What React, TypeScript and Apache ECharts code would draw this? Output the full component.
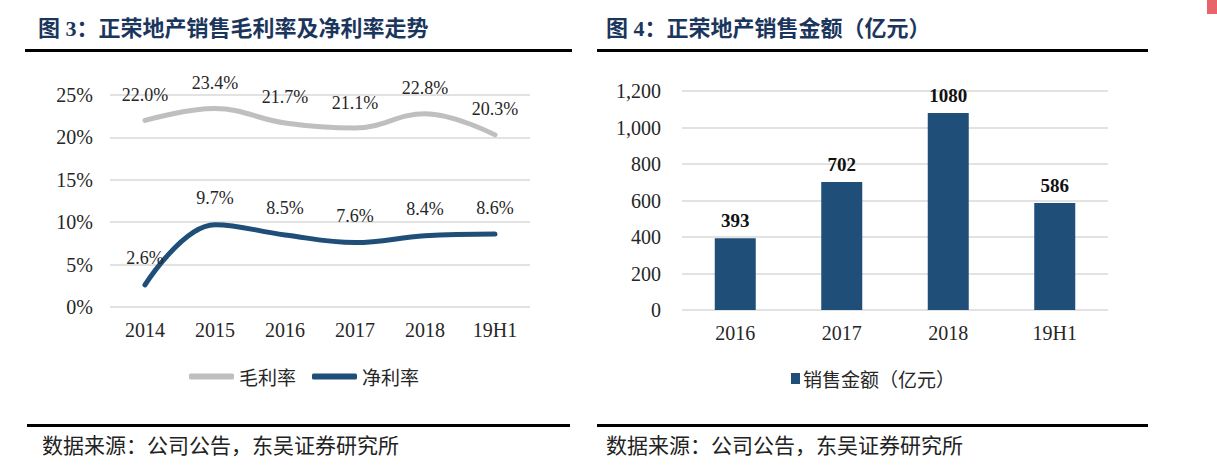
import React, { useEffect, useRef } from "react";
import * as echarts from "echarts";

const marginYears = ["2014", "2015", "2016", "2017", "2018", "19H1"];
const grossMargin = [22.0, 23.4, 21.7, 21.1, 22.8, 20.3];
const netMargin = [2.6, 9.7, 8.5, 7.6, 8.4, 8.6];
const salesYears = ["2016", "2017", "2018", "19H1"];
const salesAmount = [393, 702, 1080, 586];

const titleLeft = "图 3：正荣地产销售毛利率及净利率走势";
const titleRight = "图 4：正荣地产销售金额（亿元）";
const sourceText = "数据来源：公司公告，东吴证券研究所";

const NAVY = "#1F4E79";
const GRAY = "#BFBFBF";
const SERIF = '"Liberation Serif", "Times New Roman", serif';
const CJK = '"Noto Sans CJK SC", sans-serif';

export default function App() {
  const ref = useRef<HTMLDivElement>(null);
  useEffect(() => {
    document.body.style.margin = "0";
    const chart = echarts.init(ref.current!, null, { renderer: "svg" });
    const axisLabel = { fontFamily: SERIF, fontSize: 20, color: "#262626" };
    const lineLabel = {
      show: true,
      position: "top",
      distance: 16,
      fontFamily: SERIF,
      fontSize: 18,
      color: "#262626",
      formatter: (p: any) => p.value.toFixed(1) + "%",
    };
    chart.setOption({
      animation: false,
      backgroundColor: "#ffffff",
      grid: [
        { left: 110, top: 95, width: 420, height: 212 },
        { left: 682, top: 91, width: 426, height: 219 },
      ],
      legend: [
        {
          left: 184,
          top: 362,
          data: ["毛利率", "净利率"],
          icon: "roundRect",
          itemWidth: 45,
          itemHeight: 6,
          itemGap: 16,
          textStyle: { fontFamily: CJK, fontSize: 19, color: "#262626" },
        },
        {
          left: 786,
          top: 364,
          data: ["销售金额（亿元）"],
          icon: "rect",
          itemWidth: 9,
          itemHeight: 11,
          itemGap: 10,
          textStyle: { fontFamily: CJK, fontSize: 19, color: "#262626", padding: [0, 0, 0, -2] },
        },
      ],
      xAxis: [
        {
          type: "category",
          gridIndex: 0,
          data: marginYears,
          axisLine: { show: false },
          axisTick: { show: false },
          axisLabel: { ...axisLabel, margin: 13 },
        },
        {
          type: "category",
          gridIndex: 1,
          data: salesYears,
          axisLine: { show: false },
          axisTick: { show: false },
          axisLabel: { ...axisLabel, margin: 13 },
        },
      ],
      yAxis: [
        {
          type: "value",
          gridIndex: 0,
          min: 0,
          max: 25,
          interval: 5,
          axisLine: { show: false },
          axisTick: { show: false },
          splitLine: { lineStyle: { color: "#D9D9D9", width: 1.5 } },
          axisLabel: { ...axisLabel, margin: 17, formatter: "{value}%" },
        },
        {
          type: "value",
          gridIndex: 1,
          min: 0,
          max: 1200,
          interval: 200,
          axisLine: { show: false },
          axisTick: { show: false },
          splitLine: { lineStyle: { color: "#D9D9D9", width: 1.5 } },
          axisLabel: {
            ...axisLabel,
            margin: 21,
            formatter: (v: number) => v.toLocaleString("en-US"),
          },
        },
      ],
      series: [
        {
          name: "毛利率",
          type: "line",
          xAxisIndex: 0,
          yAxisIndex: 0,
          data: grossMargin,
          smooth: 0.4,
          showSymbol: true,
          symbol: "circle",
          symbolSize: 1,
          color: GRAY,
          itemStyle: { color: GRAY },
          lineStyle: { color: GRAY, width: 5, cap: "round" },
          label: lineLabel,
        },
        {
          name: "净利率",
          type: "line",
          xAxisIndex: 0,
          yAxisIndex: 0,
          data: netMargin,
          smooth: 0.4,
          showSymbol: true,
          symbol: "circle",
          symbolSize: 1,
          color: NAVY,
          itemStyle: { color: NAVY },
          lineStyle: { color: NAVY, width: 5, cap: "round" },
          label: { ...lineLabel, distance: 17 },
        },
        {
          name: "销售金额（亿元）",
          type: "bar",
          xAxisIndex: 1,
          yAxisIndex: 1,
          data: salesAmount,
          barWidth: 41,
          color: NAVY,
          itemStyle: { color: NAVY },
          label: {
            show: true,
            position: "top",
            distance: 8,
            fontFamily: SERIF,
            fontSize: 19,
            fontWeight: "bold",
            color: "#111",
          },
        },
      ],
      graphic: [
        {
          type: "text",
          x: 38,
          y: 28,
          style: {
            text: titleLeft,
            font: `bold 22px "Liberation Serif", ${CJK}`,
            fill: "#1B365D",
            verticalAlign: "middle",
          },
        },
        {
          type: "text",
          x: 606,
          y: 28,
          style: {
            text: titleRight,
            font: `bold 22px "Liberation Serif", ${CJK}`,
            fill: "#1B365D",
            verticalAlign: "middle",
          },
        },
        { type: "rect", shape: { x: 25, y: 49, width: 547, height: 3 }, style: { fill: "#000" } },
        { type: "rect", shape: { x: 597, y: 49, width: 551, height: 3 }, style: { fill: "#000" } },
        { type: "rect", shape: { x: 27, y: 424, width: 543, height: 3 }, style: { fill: "#000" } },
        { type: "rect", shape: { x: 597, y: 424, width: 551, height: 3 }, style: { fill: "#000" } },
        { type: "rect", shape: { x: 1207, y: 0, width: 10, height: 14 }, style: { fill: "#E8646A" } },
        {
          type: "text",
          x: 42,
          y: 444,
          style: { text: sourceText, font: `21px ${CJK}`, fill: "#222", verticalAlign: "middle" },
        },
        {
          type: "text",
          x: 606,
          y: 444,
          style: { text: sourceText, font: `21px ${CJK}`, fill: "#222", verticalAlign: "middle" },
        },
      ],
    });
    return () => chart.dispose();
  }, []);
  return (
    <div
      ref={ref}
      style={{ position: "fixed", left: 0, top: 0, width: 1217, height: 476 }}
    />
  );
}
